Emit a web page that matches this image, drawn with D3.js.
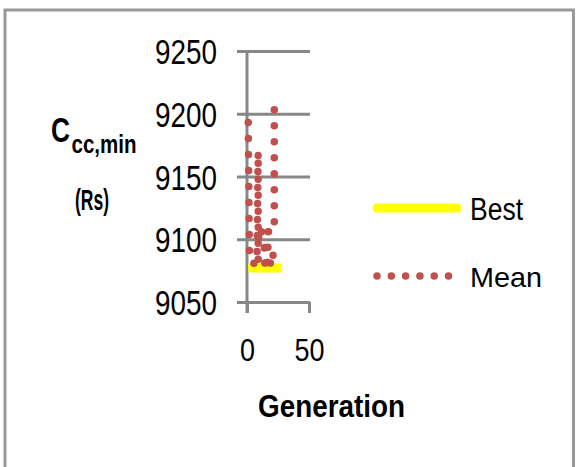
<!DOCTYPE html>
<html>
<head>
<meta charset="utf-8">
<script src="https://cdn.jsdelivr.net/npm/d3@7"></script>
<style>
  body { margin: 0; background: #fff; }
  svg text { font-family: "Liberation Sans", Arial, sans-serif; fill: #000; }
</style>
</head>
<body>
<svg id="chart" width="576" height="467"></svg>
<script>
// values
const yTicks = [9050, 9100, 9150, 9200, 9250];
const xTicks = [0, 50];
const bestGen = [1, 5, 10, 15, 20, 28];
const bestCost = [9077, 9077, 9077, 9077, 9077, 9077];
// mean trace as drawn (it doubles back over the same rows)
const meanGen = [1, 2, 8, 9, 9, 24, 10, 22, 8, 21, 21, 9, 22, 10, 9, 21, 8, 22, 22];
const meanCost = [9193, 9082, 9080, 9170, 9081, 9081, 9082, 9081, 9081, 9081,
  9093, 9093, 9094, 9093, 9106, 9106, 9106, 9106, 9213];
const seriesNames = ["Best", "Mean"];

const svg = d3.select("#chart");

// outer frame
svg.append("rect")
  .attr("x", 5).attr("y", 10)
  .attr("width", 568.5).attr("height", 480)
  .attr("fill", "#fff")
  .attr("stroke", "#999")
  .attr("stroke-width", 3);

const x = d3.scaleLinear().domain([0, 50]).range([247, 309]);
const y = d3.scaleLinear().domain([9050, 9250]).range([302, 51]);
const gridColor = "#878787";

// y gridlines + labels
const yAxis = svg.append("g")
  .attr("transform", `translate(${x(0) - 10},0)`)
  .call(d3.axisLeft(y).tickValues(yTicks).tickFormat(d3.format("d"))
    .tickSizeInner(-(x(50) - x(0) + 11)).tickSizeOuter(0).tickPadding(20));
yAxis.select(".domain").remove();
yAxis.selectAll("line").attr("stroke", gridColor).attr("stroke-width", 3);
yAxis.selectAll("text")
  .attr("dy", null).attr("y", 12.5)
  .attr("font-size", 35)
  .attr("textLength", 62).attr("lengthAdjust", "spacingAndGlyphs")
  .style("font-family", "'Liberation Sans', Arial, sans-serif");

// y axis line
svg.append("line")
  .attr("x1", x(0)).attr("x2", x(0))
  .attr("y1", y(9250)).attr("y2", y(9050) + 11)
  .attr("stroke", gridColor).attr("stroke-width", 3);

// x axis ticks + labels
const xAxis = svg.append("g")
  .attr("transform", `translate(0,${y(9050)})`)
  .call(d3.axisBottom(x).tickValues(xTicks).tickFormat(d3.format("d"))
    .tickSize(11).tickSizeOuter(0).tickPadding(0));
xAxis.select(".domain").remove();
xAxis.selectAll("line").attr("stroke", gridColor).attr("stroke-width", 3);
xAxis.selectAll("text")
  .attr("dy", null).attr("y", 58.7)
  .attr("font-size", 31)
  .attr("textLength", d => d === 0 ? 15 : 30).attr("lengthAdjust", "spacingAndGlyphs")
  .style("font-family", "'Liberation Sans', Arial, sans-serif");

// series
const bestData = bestGen.map((g, i) => [g, bestCost[i]]);
const meanData = meanGen.map((g, i) => [g, meanCost[i]]);
const line = d3.line().x(d => x(d[0])).y(d => y(d[1]));

svg.append("path")
  .attr("d", line(bestData))
  .attr("fill", "none")
  .attr("stroke", "#ffff00")
  .attr("stroke-width", 9)
  .attr("stroke-linecap", "butt");

svg.append("path")
  .attr("d", line(meanData))
  .attr("fill", "none")
  .attr("stroke", "#c0504d")
  .attr("stroke-width", 7.5)
  .attr("stroke-linecap", "round")
  .attr("stroke-dasharray", "0 16");

// axis titles
function label(txt, px, py, size, len, bold) {
  return svg.append("text")
    .attr("x", px).attr("y", py)
    .attr("font-size", size)
    .attr("font-weight", bold ? "bold" : "normal")
    .attr("textLength", len).attr("lengthAdjust", "spacingAndGlyphs")
    .text(txt);
}
label("C", 51, 141.7, 35, 19, true);
label("cc,min", 71.5, 153.3, 25, 65, true);
label("(Rs)", 75, 210, 30, 34, true);
label("Generation", 258, 416.7, 31, 147, true);

// legend
const legend = svg.append("g");
legend.append("line")
  .attr("x1", 377).attr("x2", 457).attr("y1", 208).attr("y2", 208)
  .attr("stroke", "#ffff00").attr("stroke-width", 9).attr("stroke-linecap", "round");
legend.append("line")
  .attr("x1", 377).attr("x2", 449).attr("y1", 276).attr("y2", 276)
  .attr("stroke", "#c0504d").attr("stroke-width", 7.5).attr("stroke-linecap", "round")
  .attr("stroke-dasharray", "0 14.3");
label(seriesNames[0], 470, 220, 31, 53, false);
label(seriesNames[1], 470, 286.7, 28, 72, false);
</script>
</body>
</html>
